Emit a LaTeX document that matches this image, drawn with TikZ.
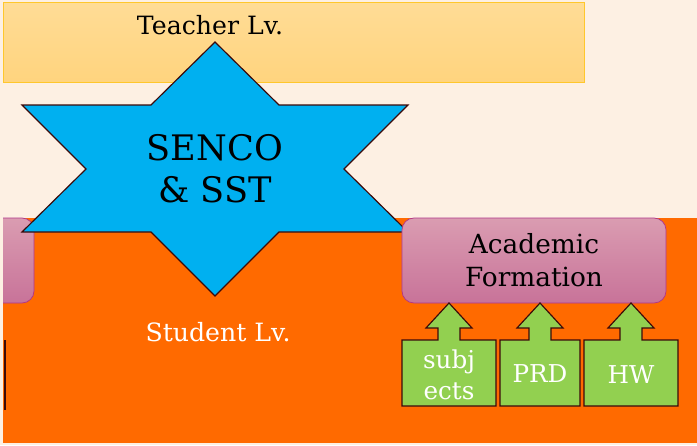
\documentclass[tikz,border=0pt]{standalone}
\usepackage{fontspec}
\setmainfont{DejaVu Serif}
\definecolor{cream}{HTML}{FDF0E3}
\definecolor{bandtop}{HTML}{FFDC96}
\definecolor{bandbot}{HTML}{FFD47E}
\definecolor{bandline}{HTML}{FFC72C}
\definecolor{stuorange}{HTML}{FF6A00}
\definecolor{starblue}{HTML}{00B0F0}
\definecolor{darkbrown}{HTML}{3B0A0A}
\definecolor{pinktop}{HTML}{DA9CB1}
\definecolor{pinkbot}{HTML}{C87399}
\definecolor{pinkline}{HTML}{B0368A}
\definecolor{callgreen}{HTML}{92D050}

\tikzset{
  lvtext/.style={font=\fontsize{21.5}{26}\selectfont},
  pinkbox/.style={top color=pinktop, bottom color=pinkbot, draw=pinkline, line width=0.6pt, rounded corners=0.36cm},
  callout/.style={fill=callgreen, draw=darkbrown, line width=1pt, line join=miter},
  calltext/.style={text=white, align=center, font=\fontsize{21}{27}\selectfont}
}

\begin{document}
\begin{tikzpicture}[x=0.03cm, y=-0.03cm]
			%%%%% BACKGROUND %%%%%
			\useasboundingbox (0,0) rectangle (697,445);
			\fill[cream] (0,0) rectangle (697,445);
			
			% teacher level
			\draw[top color=bandtop, bottom color=bandbot, draw=bandline, line width=0.5pt] (3,2) rectangle (584,82);
			\node[lvtext] (teacher) at (210,25) {Teacher Lv.};
			
			% student level
			\fill[stuorange] (3,218) rectangle (697,443);
			\node[lvtext, text=white] (student) at (218,332) {Student Lv.};
			
			\begin{scope}
				\clip (3,210) rectangle (60,310);
				\draw[pinkbox] (-40,218) rectangle (34,303);
			\end{scope}
			\fill[darkbrown] (4,340) rectangle (6,410);
			
			%%%%% STAR %%%%%
			\draw[fill=starblue, draw=darkbrown, line width=1pt, line join=miter]
				(215,42) -- (151,105) -- (22,105) -- (86,169) -- (22,232) -- (151,232)
				-- (215,296) -- (279,232) -- (408,232) -- (344,169) -- (408,105) -- (279,105) -- cycle;
			\node[align=center, font=\fontsize{30}{36}\selectfont] (senco) at (215,169) {SENCO\\\& SST};
			
			%%%%% ACADEMIC FORMATION %%%%%
			\node[pinkbox, minimum width=7.92cm, minimum height=2.55cm, align=center,
				font=\fontsize{22.5}{28}\selectfont] (acad) at (534,260.5) {Academic\\Formation};
			
			\foreach \l/\cx/\r in {402/449/496, 500/540/580, 584/631/678}{
				\draw[callout] (\l,406) -- (\l,340) -- (\cx-11,340) -- (\cx-11,328) -- (\cx-23,328)
					-- (\cx,303) -- (\cx+23,328) -- (\cx+11,328) -- (\cx+11,340) -- (\r,340) -- (\r,406) -- cycle;
			}
			\node[calltext] (subj) at (449,375) {subj\\ects};
			\node[calltext] (prd) at (540,374) {PRD};
			\node[calltext] (hw) at (631,375) {HW};
			
			%%%%% END %%%%%
\end{tikzpicture}
\end{document}
